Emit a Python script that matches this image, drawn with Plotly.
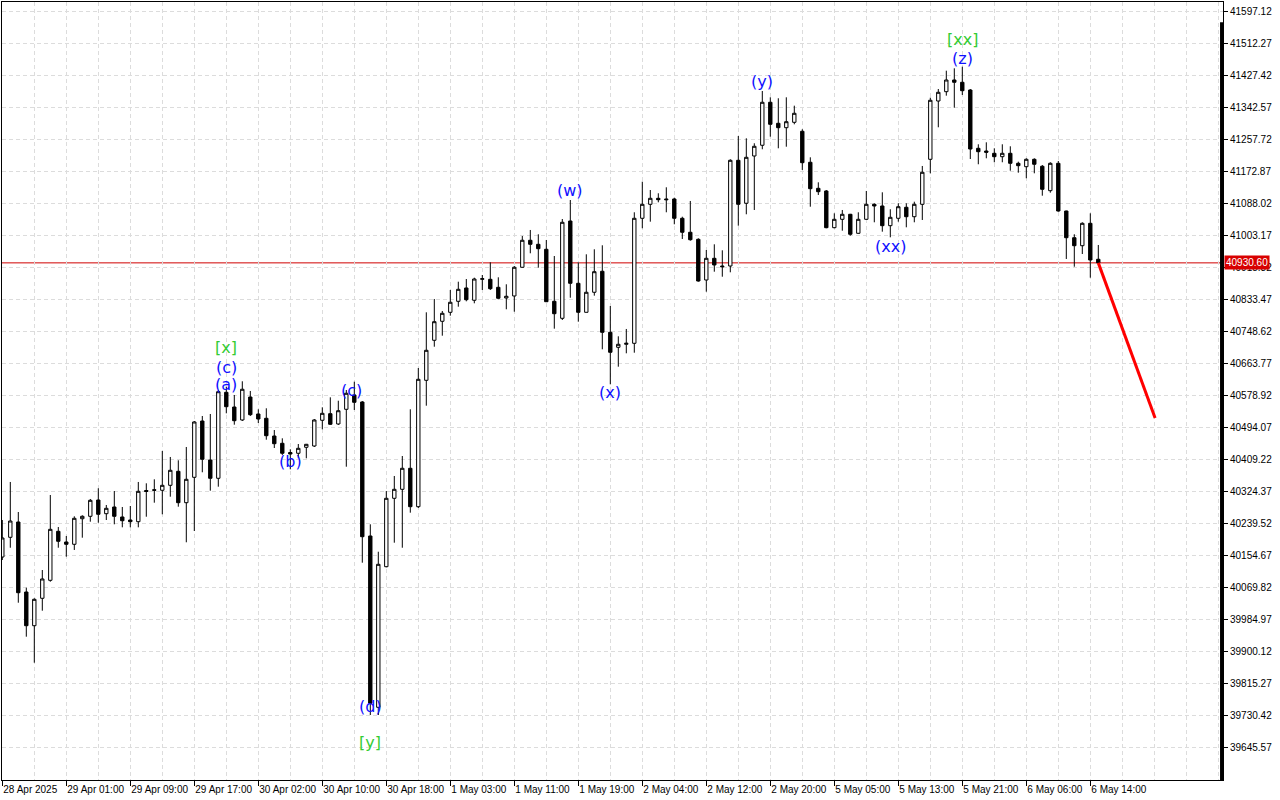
import plotly.graph_objects as go

# ---------------- data ----------------
opens = [
    40150.7, 40202.9, 40243.5, 40057.9, 39968.5, 40041.2, 40088.9, 40218.8, 40190.5, 40184.4,
    40252.2, 40258.6, 40301.8, 40265.5, 40283.3, 40256.8, 40248.8, 40244.3, 40327.0, 40329.1,
    40327.6, 40340.8, 40377.9, 40294.7, 40362.0, 40511.3, 40407.9, 40359.4, 40587.4, 40548.4,
    40514.0, 40574.9, 40529.9, 40518.5, 40471.5, 40452.2, 40427.8, 40425.7, 40441.6, 40445.0,
    40513.2, 40530.7, 40503.4, 40542.3, 40580.3, 40561.7, 40206.4, 39752.2, 40125.0, 40306.3,
    40330.2, 40385.9, 40284.1, 40619.2, 40725.3, 40775.7, 40799.5, 40828.7, 40864.0, 40831.4,
    40887.0, 40887.0, 40865.8, 40837.5, 40842.8, 40918.9, 40990.5, 40979.8, 40966.6, 40828.7,
    40783.6, 41041.6, 40876.4, 40799.5, 40852.6, 40908.3, 40746.5, 40706.7, 40714.7, 40717.3,
    41048.8, 41085.9, 41101.8, 41100.0, 41100.0, 41048.8, 41011.7, 40993.1, 40885.2, 40942.7,
    40922.3, 40922.3, 41202.6, 41088.6, 41214.0, 41242.4, 41356.4, 41300.7, 41289.0, 41303.3,
    41279.5, 41197.3, 41128.3, 41121.2, 41023.9, 41046.1, 41059.4, 41009.0, 41046.1, 41085.9,
    41081.4, 41029.2, 41048.8, 41078.0, 41053.0, 41085.9, 41205.2, 41359.8, 41384.5, 41415.5,
    41409.4, 41389.0, 41234.4, 41227.2, 41221.1, 41212.1, 41221.1, 41194.6, 41185.6, 41205.2,
    41186.7, 41122.0, 41194.6, 41068.1, 40997.3, 40976.1, 41035.5, 40940.1]

highs = [
    40248.8, 40349.6, 40270.0, 40069.3, 40041.2, 40116.2, 40315.1, 40230.2, 40206.4, 40258.6,
    40261.3, 40304.5, 40332.9, 40288.6, 40325.7, 40283.3, 40285.9, 40349.6, 40346.1, 40356.7,
    40431.8, 40415.9, 40407.1, 40442.4, 40511.3, 40524.6, 40529.9, 40593.5, 40602.3, 40580.3,
    40616.6, 40590.9, 40542.3, 40545.0, 40487.4, 40465.4, 40436.3, 40450.3, 40450.5, 40516.6,
    40547.6, 40574.1, 40565.1, 40593.5, 40615.5, 40564.3, 40237.4, 40164.7, 40325.7, 40365.5,
    40418.5, 40542.3, 40651.8, 40799.5, 40834.8, 40803.0, 40858.7, 40880.7, 40887.8, 40891.3,
    40898.4, 40932.1, 40892.3, 40873.8, 40922.3, 41001.9, 41017.8, 41006.4, 40991.3, 40948.8,
    41046.9, 41097.3, 40932.1, 40953.3, 40966.6, 40977.2, 40816.2, 40735.9, 40755.3, 41064.7,
    41145.8, 41123.8, 41115.1, 41131.0, 41103.4, 41053.0, 41094.7, 40995.8, 40964.7, 40979.8,
    40963.9, 41205.2, 41267.0, 41260.9, 41247.7, 41386.3, 41369.6, 41367.0, 41369.6, 41347.4,
    41284.8, 41210.5, 41144.2, 41123.8, 41062.0, 41070.8, 41060.5, 41064.7, 41121.2, 41088.6,
    41117.7, 41072.7, 41088.6, 41088.6, 41092.8, 41187.5, 41368.6, 41391.6, 41440.2, 41446.5,
    41450.8, 41391.6, 41245.0, 41250.3, 41234.4, 41245.0, 41239.7, 41198.9, 41207.9, 41207.9,
    41190.1, 41197.3, 41200.7, 41069.0, 41006.4, 41038.2, 41062.0, 40978.0]

lows = [
    40142.7, 40175.3, 40029.5, 39939.4, 39870.4, 40008.3, 40085.2, 40175.3, 40151.5, 40169.3,
    40201.9, 40244.3, 40241.6, 40248.8, 40237.4, 40229.4, 40229.4, 40229.4, 40257.5, 40294.7,
    40263.9, 40310.6, 40284.1, 40189.7, 40219.6, 40375.3, 40326.5, 40337.1, 40531.7, 40501.5,
    40511.3, 40524.6, 40506.0, 40461.7, 40439.7, 40421.2, 40383.2, 40412.4, 40412.4, 40442.4,
    40489.3, 40500.7, 40500.7, 40390.1, 40540.5, 40135.6, 39731.7, 39731.7, 40123.4, 40188.6,
    40175.3, 40268.2, 40280.6, 40551.9, 40708.3, 40737.5, 40790.5, 40814.4, 40828.7, 40823.4,
    40858.7, 40858.7, 40834.0, 40807.5, 40801.1, 40917.8, 40956.0, 40917.8, 40826.9, 40756.1,
    40779.1, 40838.2, 40774.6, 40799.5, 40843.6, 40701.4, 40608.6, 40655.3, 40690.8, 40692.4,
    41022.3, 41039.8, 41091.2, 41064.7, 41032.9, 40993.9, 40989.4, 40880.7, 40854.2, 40907.2,
    40893.9, 40905.6, 41029.2, 41059.4, 41070.8, 41231.8, 41265.2, 41234.4, 41238.6, 41298.0,
    41176.9, 41079.5, 41110.6, 41022.3, 41022.3, 41015.9, 41002.6, 41008.0, 41045.0, 41038.2,
    41013.3, 40998.4, 41039.8, 41024.9, 41038.2, 41044.3, 41168.1, 41290.1, 41373.9, 41342.1,
    41375.7, 41206.0, 41192.0, 41207.9, 41197.3, 41197.3, 41175.0, 41169.7, 41154.9, 41168.1,
    41108.7, 41116.7, 41066.3, 40940.9, 40920.4, 40954.1, 40891.3, 40928.0]

closes = [
    40201.1, 40246.1, 40056.0, 39968.5, 40038.5, 40092.4, 40224.1, 40192.3, 40184.4, 40253.3,
    40258.6, 40301.0, 40263.9, 40279.8, 40258.6, 40246.9, 40244.3, 40324.9, 40324.4, 40327.6,
    40340.8, 40380.6, 40294.7, 40356.7, 40508.7, 40409.8, 40359.4, 40589.0, 40549.2, 40512.1,
    40595.4, 40528.0, 40516.6, 40472.3, 40451.1, 40425.7, 40423.8, 40438.9, 40449.5, 40514.0,
    40531.7, 40502.6, 40538.6, 40584.8, 40560.9, 40204.5, 39762.8, 40131.3, 40306.3, 40330.2,
    40385.9, 40284.1, 40621.9, 40698.8, 40774.6, 40796.9, 40826.1, 40860.5, 40832.9, 40887.8,
    40888.6, 40862.1, 40836.7, 40842.0, 40918.9, 40990.5, 40979.8, 40968.2, 40827.6, 40795.8,
    41038.2, 40876.4, 40799.5, 40852.6, 40907.2, 40746.5, 40693.5, 40714.7, 40717.3, 41048.8,
    41085.9, 41101.8, 41098.1, 41098.1, 41048.8, 41011.7, 40992.0, 40882.5, 40942.7, 40925.0,
    40920.4, 41202.6, 41085.9, 41210.5, 41239.7, 41356.4, 41298.0, 41289.0, 41304.9, 41327.2,
    41196.2, 41127.3, 41119.3, 41023.9, 41046.1, 41059.4, 41006.4, 41046.1, 41085.9, 41081.4,
    41029.2, 41051.4, 41079.5, 41053.0, 41085.9, 41170.8, 41361.7, 41382.9, 41415.5, 41409.4,
    41387.1, 41232.5, 41225.4, 41223.8, 41212.1, 41221.1, 41194.6, 41188.3, 41205.2, 41192.0,
    41125.7, 41194.6, 41068.1, 40997.3, 40976.1, 41035.5, 40938.2, 40930.6]

assert len(opens) == len(highs) == len(lows) == len(closes) == 138

current_price = 40930.60
current_price_text = "40930.60"

# projected move (bar index, price)
forecast_bars = [137, 144.1]
forecast_prices = [40930.60, 40519.0]

# x-axis tick labels (every 8 bars)
x_tick_bars = [0, 8, 16, 24, 32, 40, 48, 56, 64, 72, 80, 88, 96, 104, 112, 120, 128, 136]
x_tick_labels = ["28 Apr 2025", "29 Apr 01:00", "29 Apr 09:00", "29 Apr 17:00",
                 "30 Apr 02:00", "30 Apr 10:00", "30 Apr 18:00", "1 May 03:00",
                 "1 May 11:00", "1 May 19:00", "2 May 04:00", "2 May 12:00",
                 "2 May 20:00", "5 May 05:00", "5 May 13:00", "5 May 21:00",
                 "6 May 06:00", "6 May 14:00"]

# y-axis tick labels
y_tick_labels = ["39645.57", "39730.42", "39815.27", "39900.12", "39984.97", "40069.82",
                 "40154.67", "40239.52", "40324.37", "40409.22", "40494.07", "40578.92",
                 "40663.77", "40748.62", "40833.47", "40918.32", "41003.17", "41088.02",
                 "41172.87", "41257.72", "41342.57", "41427.42", "41512.27", "41597.12"]
y_tick_values = [float(v) for v in y_tick_labels]

# wave labels: (text, bar index, price, degree)
wave_labels = [
    ("[x]", 28, 40704.9, "major"),
    ("(c)", 28, 40654.5, "minor"),
    ("(a)", 28, 40606.8, "minor"),
    ("(b)", 36, 40405.2, "minor"),
    ("(c)", 43.7, 40593.5, "minor"),
    ("(d)", 46, 39755.5, "minor"),
    ("[y]", 46, 39660.1, "major"),
    ("(w)", 71, 41123.8, "minor"),
    ("(x)", 76, 40588.2, "minor"),
    ("(y)", 95, 41412.8, "minor"),
    ("(xx)", 111, 40975.3, "minor"),
    ("(z)", 120, 41473.8, "minor"),
    ("[xx]", 120, 41524.2, "major"),
]

# ---------------- figure ----------------
bars = list(range(len(opens)))
GRID = "#dcdcdc"
FONT = "Liberation Sans, Arial, sans-serif"

fig = go.Figure()
fig.add_trace(go.Candlestick(
    x=bars, open=opens, high=highs, low=lows, close=closes,
    increasing=dict(fillcolor="white", line=dict(color="black", width=1)),
    decreasing=dict(fillcolor="black", line=dict(color="black", width=1)),
    whiskerwidth=0, showlegend=False, hoverinfo="skip",
))

fig.add_trace(go.Scatter(
    x=forecast_bars, y=forecast_prices, mode="lines",
    line=dict(color="#ff0000", width=3), showlegend=False, hoverinfo="skip",
))

# current price line
fig.add_shape(type="line", xref="paper", x0=0, x1=1, yref="y",
              y0=current_price, y1=current_price,
              line=dict(color="#d00000", width=1), layer="below")

# wave labels
colors = {"minor": "#1010ff", "major": "#33cc33"}
for text, bx, price, deg in wave_labels:
    fig.add_annotation(x=bx, y=price, text=text, showarrow=False,
                       xanchor="center", yanchor="middle",
                       font=dict(family="DejaVu Sans", size=16, color=colors[deg]))

# price tag on the axis
fig.add_annotation(xref="paper", x=1, xanchor="left", xshift=1,
                   yref="y", y=current_price, yanchor="middle",
                   text=current_price_text, showarrow=False,
                   bgcolor="#d80000", borderpad=1,
                   font=dict(family=FONT, size=10, color="white"))

# thick right border segment
fig.add_shape(type="line", xref="paper", x0=0.9988, x1=0.9988, yref="paper",
              y0=0, y1=0.974, line=dict(color="black", width=3))

minor_grid = [k for k in range(4, 153, 4) if k not in x_tick_bars]

fig.update_layout(
    width=1280, height=800,
    margin=dict(l=2, r=57, t=2, b=20, autoexpand=False),
    paper_bgcolor="white", plot_bgcolor="white",
    boxgap=0.4,
    font=dict(family=FONT, size=10, color="black"),
    xaxis=dict(
        range=[-0.0375, 152.5875], rangeslider=dict(visible=False),
        tickmode="array", tickvals=x_tick_bars, ticktext=x_tick_labels,
        ticks="outside", ticklen=5, tickcolor="black", tickangle=0,
        ticklabelposition="outside right", automargin=False,
        showgrid=True, gridcolor=GRID, griddash="4px,3px", gridwidth=1,
        minor=dict(tickmode="array", tickvals=minor_grid, showgrid=True,
                   gridcolor=GRID, griddash="4px,3px", ticks=""),
        showline=True, linecolor="black", linewidth=1, mirror=True,
        zeroline=False, fixedrange=True,
        tickfont=dict(family=FONT, size=10, color="black"),
    ),
    yaxis=dict(
        side="right", range=[39559.4, 41622.3], automargin=False,
        tickmode="array", tickvals=y_tick_values, ticktext=y_tick_labels,
        ticks="outside", ticklen=4, tickcolor="black",
        showgrid=True, gridcolor=GRID, griddash="4px,3px", gridwidth=1,
        showline=True, linecolor="black", linewidth=1, mirror=True,
        zeroline=False, fixedrange=True,
        tickfont=dict(family=FONT, size=10, color="black"),
    ),
)

fig.write_html("out.html", config={"displayModeBar": False},
               post_script="document.body.style.margin='0';document.body.style.overflow='hidden';")
